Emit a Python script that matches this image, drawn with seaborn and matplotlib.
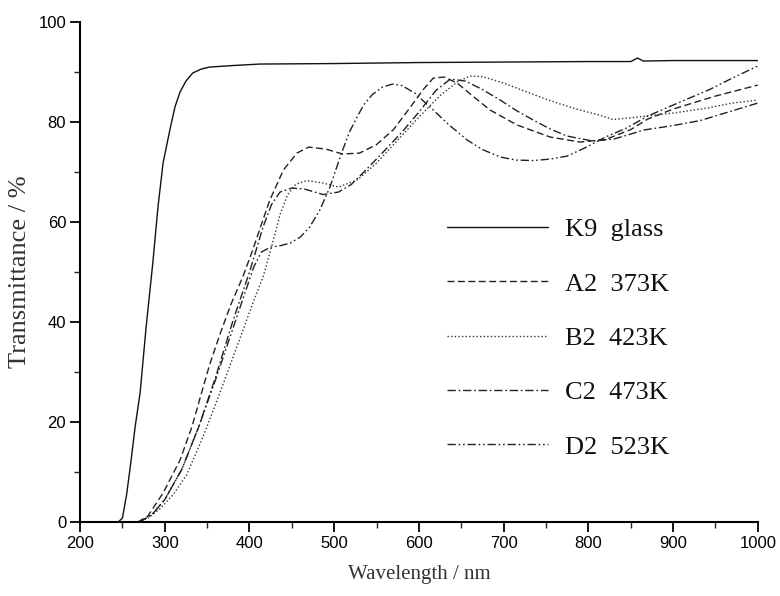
import numpy as np
import pandas as pd
import matplotlib
matplotlib.use("Agg")
import matplotlib.pyplot as plt
import seaborn as sns

# ---- data ----
k9_x = [245, 250, 255, 260, 265, 271, 278, 286, 292, 298, 306, 312, 318, 325, 333, 343, 353, 380,
        412, 500, 600, 700, 800, 850, 858, 865, 900, 1000]
k9_y = [0, 0.8, 5.5, 12, 19, 26, 39, 52, 63, 71.8, 78.4, 83, 86, 88.2, 89.8, 90.6, 91, 91.3,
        91.6, 91.7, 91.9, 92, 92.1, 92.1, 92.8, 92.2, 92.3, 92.3]

a2_x = [268, 280, 298, 318, 332, 342, 353, 365, 378, 392, 404, 414, 424, 440, 456, 470, 490, 510,
        530, 550, 570, 590, 605, 617, 630, 645, 665, 684, 716, 755, 790, 820, 850, 870, 900, 950, 1000]
a2_y = [0, 1.2, 5.8, 12.4, 19, 25, 31.5, 37.5, 43.5, 49, 54.5, 59.5, 64.4, 70.4, 73.8, 75, 74.6, 73.6,
        73.8, 75.5, 78.5, 83, 86.5, 88.8, 89, 87.8, 85, 82.4, 79.4, 77, 76, 76.5, 78.5, 80.6, 82.6, 85.2, 87.4]

b2_x = [268, 280, 294, 310, 326, 345, 365, 385, 404, 416, 426, 436, 445, 455, 468, 487, 505, 527,
        550, 575, 600, 625, 645, 660, 675, 700, 720, 743, 765, 790, 813, 829, 853, 900, 940, 970, 1000]
b2_y = [0, 0.8, 2.6, 5.5, 9.5, 17, 25.8, 35, 43.8, 49, 55, 61.5, 65.5, 67.6, 68.3, 67.8, 67, 68.4,
        71.8, 76.4, 81, 85.3, 88, 89.2, 89.1, 87.8, 86.5, 85, 83.7, 82.4, 81.4, 80.5, 80.9, 81.8, 82.8, 83.8, 84.4]

c2_x = [270, 285, 300, 320, 340, 360, 380, 400, 416, 426, 436, 450, 465, 487, 505, 520, 535, 555,
        580, 600, 620, 637, 655, 675, 696, 715, 735, 755, 775, 805, 830, 850, 865, 900, 932, 965, 1000]
c2_y = [0, 1.5, 4.5, 10.5, 19, 29, 40, 50, 59, 63.5, 66, 66.8, 66.6, 65.5, 66, 67.5, 70, 73.5,
        78, 82, 86.3, 88.6, 88.2, 86.5, 84.4, 82.3, 80.4, 78.6, 77.2, 76.2, 76.6, 77.6, 78.4, 79.3, 80.3, 82, 83.8]

d2_x = [270, 285, 300, 320, 340, 360, 380, 395, 405, 414, 425, 437, 448, 460, 471, 483, 495, 503,
        510, 518, 527, 535, 545, 557, 569, 580, 595, 617, 635, 657, 675, 696, 715, 735, 755, 775,
        798, 820, 845, 870, 900, 943, 970, 1000]
d2_y = [0, 1.5, 4.5, 10.5, 19, 28.5, 38.5, 46, 51, 54, 55, 55.3, 55.8, 57, 59, 62.4, 67, 71,
        74.4, 78, 81, 83.5, 85.5, 87, 87.6, 87.3, 85.8, 82.4, 79.5, 76.4, 74.5, 73, 72.4, 72.3, 72.6, 73.2,
        75, 77, 78.8, 81.2, 83.4, 86.5, 88.8, 91.2]

labels = ["K9  glass", "A2  373K", "B2  423K", "C2  473K", "D2  523K"]
x_ticks = [200, 300, 400, 500, 600, 700, 800, 900, 1000]
y_ticks = [0, 20, 40, 60, 80, 100]

series = [(k9_x, k9_y), (a2_x, a2_y), (b2_x, b2_y), (c2_x, c2_y), (d2_x, d2_y)]
dashes = [None, (5, 2.5), (1, 1.6), (6, 2, 1.2, 2), (6, 2, 1.2, 2, 1.2, 2)]
colors = ["#111111", "#222222", "#333333", "#222222", "#222222"]

# ---- plot ----
sns.set_style("ticks")
plt.rcParams["font.family"] = ["Liberation Sans", "DejaVu Sans"]

fig = plt.figure(figsize=(7.8, 5.96), dpi=100)
ax = fig.add_axes([0.1026, 0.124, 0.869, 0.839])

for (xs, ys), lab, d, c in zip(series, labels, dashes, colors):
    df = pd.DataFrame({"x": xs, "y": ys})
    sns.lineplot(data=df, x="x", y="y", ax=ax, color=c, lw=1.0, label=lab, sort=False)
    line = ax.get_lines()[-1]
    if d is not None:
        line.set_dashes(d)

ax.set_xlim(200, 1000)
ax.set_ylim(0, 100)
ax.set_xticks(x_ticks)
ax.set_yticks(y_ticks)
ax.set_xticks(np.arange(250, 1000, 100), minor=True)
ax.set_yticks(np.arange(10, 100, 20), minor=True)

for side in ["top", "right"]:
    ax.spines[side].set_visible(False)
for side in ["left", "bottom"]:
    ax.spines[side].set_linewidth(1.5)
    ax.spines[side].set_color("black")

ax.tick_params(axis="both", which="major", direction="out", length=7, width=1.3,
               labelsize=12, colors="black", pad=3)
ax.tick_params(axis="both", which="minor", direction="out", length=4, width=1.0)

ax.set_xlabel("Wavelength / nm", fontfamily=["Liberation Serif"], fontsize=15,
              color="#333333", labelpad=10)
ax.set_ylabel("Transmittance / %", fontfamily=["Liberation Serif"], fontsize=19,
              color="#333333", labelpad=5)

leg = ax.legend(loc="upper left", bbox_to_anchor=(0.507, 0.656), frameon=False,
                prop={"family": "Liberation Serif", "size": 19},
                handlelength=3.8, handletextpad=0.65, labelspacing=1.17)
for t in leg.get_texts():
    t.set_color("#111111")

fig.savefig("out.png", dpi=100)
